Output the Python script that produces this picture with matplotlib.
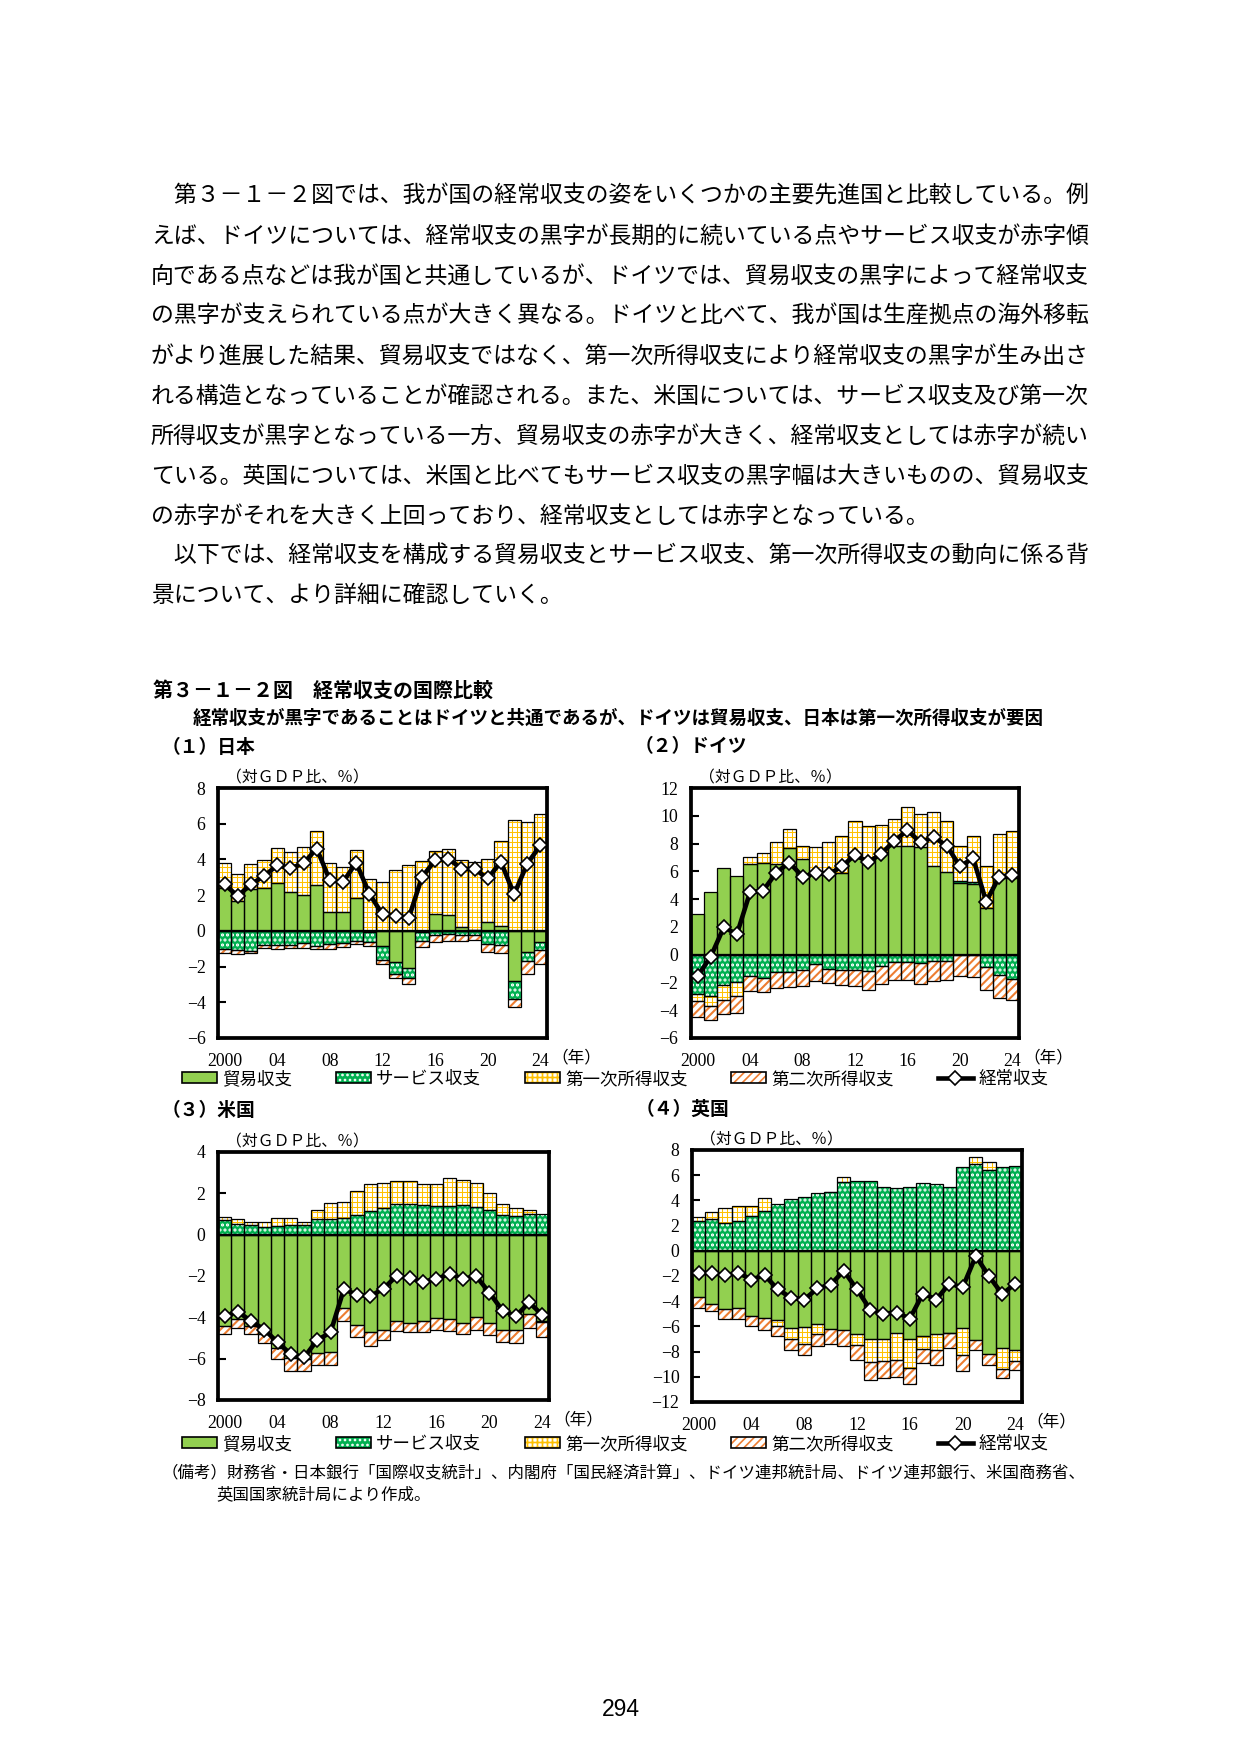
import matplotlib
matplotlib.use("Agg")
import matplotlib.pyplot as plt
from matplotlib.patches import Patch
from matplotlib.lines import Line2D
import numpy as np

W, H = 1241, 1755
DPI = 150

plt.rcParams['font.family'] = ['Liberation Serif', 'Noto Sans CJK JP']
plt.rcParams['hatch.linewidth'] = 0.8
JP = ['Noto Sans CJK JP', 'DejaVu Sans']

# ---- data (% of GDP), 2000-2024 ----
years = np.arange(2000, 2025)
year_ticks = ['2000', '04', '08', '12', '16', '20', '24']

jp_trade = [2.38, 1.70, 2.32, 2.38, 2.70, 2.19, 2.02, 2.58, 1.07, 1.07, 1.85, -0.05, -0.82,
            -1.76, -2.08, -0.05, 0.96, 0.90, 0.19, 0.03, 0.50, 0.28, -2.81, -1.18, -0.62]
jp_serv = [-1.00, -1.09, -1.10, -0.79, -0.79, -0.77, -0.67, -0.82, -0.73, -0.66, -0.56, -0.55, -0.79,
           -0.64, -0.56, -0.50, -0.24, -0.20, -0.24, -0.22, -0.71, -0.80, -0.99, -0.51, -0.47]
jp_prim = [1.44, 1.48, 1.43, 1.59, 1.94, 2.23, 2.68, 3.02, 2.73, 2.51, 2.68, 2.90, 2.75,
           3.43, 3.69, 3.90, 3.52, 3.71, 3.76, 3.83, 3.53, 4.76, 6.22, 6.10, 6.57]
jp_sec = [-0.25, -0.22, -0.13, -0.15, -0.22, -0.17, -0.28, -0.22, -0.26, -0.24, -0.15, -0.25, -0.23,
          -0.22, -0.32, -0.35, -0.38, -0.34, -0.34, -0.30, -0.49, -0.44, -0.47, -0.71, -0.75]
jp_ca = [2.60, 1.95, 2.60, 3.07, 3.67, 3.50, 3.78, 4.61, 2.83, 2.73, 3.82, 2.08, 0.92,
         0.86, 0.73, 3.01, 3.95, 4.04, 3.48, 3.45, 2.94, 3.86, 2.04, 3.76, 4.79]

de_trade = [2.93, 4.49, 6.22, 5.67, 6.54, 6.59, 6.51, 7.67, 6.90, 6.00, 6.00, 5.90, 7.00,
            6.95, 7.40, 7.84, 7.84, 7.74, 6.35, 5.98, 5.14, 5.07, 3.34, 5.50, 5.55]
de_serv = [-2.80, -2.97, -2.15, -2.00, -1.55, -1.67, -1.28, -1.28, -1.07, -0.70, -1.00, -1.07, -1.12,
           -1.19, -0.83, -0.56, -0.56, -0.63, -0.44, -0.44, 0.20, 0.15, -0.88, -1.48, -1.72]
de_prim = [-0.55, -0.72, -1.08, -0.99, 0.52, 0.76, 1.57, 1.37, 0.89, 1.74, 2.08, 2.61, 2.62,
           2.35, 1.97, 1.96, 2.76, 2.41, 3.89, 3.68, 2.45, 3.29, 3.01, 3.18, 3.37]
de_sec = [-1.13, -1.03, -1.01, -1.18, -1.06, -1.05, -1.09, -1.04, -1.20, -1.23, -1.03, -1.08, -1.13,
          -1.32, -1.25, -1.23, -1.23, -1.49, -1.47, -1.40, -1.55, -1.64, -1.68, -1.61, -1.52]
de_ca = [-1.55, -0.15, 1.97, 1.48, 4.49, 4.61, 5.91, 6.63, 5.62, 5.86, 5.79, 6.35, 7.19,
         6.66, 7.26, 8.20, 8.95, 8.08, 8.46, 7.84, 6.35, 6.95, 3.82, 5.62, 5.74]

us_trade = [-4.41, -4.06, -4.40, -4.81, -5.46, -5.99, -6.04, -5.71, -5.66, -3.53, -4.35, -4.73, -4.59,
            -4.17, -4.25, -4.17, -4.02, -4.07, -4.25, -4.00, -4.29, -4.59, -4.59, -3.86, -4.18]
us_serv = [0.73, 0.54, 0.47, 0.38, 0.44, 0.49, 0.45, 0.75, 0.78, 0.79, 0.97, 1.15, 1.31,
           1.50, 1.48, 1.44, 1.41, 1.41, 1.44, 1.36, 1.17, 0.97, 0.88, 1.02, 1.00]
us_prim = [0.14, 0.24, 0.14, 0.23, 0.38, 0.33, 0.16, 0.43, 0.75, 0.81, 1.13, 1.32, 1.21,
           1.11, 1.13, 1.03, 1.06, 1.35, 1.22, 1.16, 0.85, 0.53, 0.43, 0.19, -0.05]
us_sec = [-0.42, -0.48, -0.43, -0.45, -0.56, -0.61, -0.56, -0.60, -0.65, -0.65, -0.62, -0.66, -0.51,
          -0.50, -0.48, -0.56, -0.60, -0.60, -0.58, -0.62, -0.57, -0.60, -0.64, -0.68, -0.72]
us_ca = [-3.94, -3.73, -4.18, -4.59, -5.21, -5.78, -5.94, -5.10, -4.73, -2.65, -2.90, -2.98, -2.61,
         -1.99, -2.12, -2.28, -2.15, -1.88, -2.15, -2.01, -2.81, -3.68, -3.94, -3.28, -3.89]

uk_trade = [-3.66, -4.26, -4.58, -4.50, -5.17, -5.30, -5.51, -6.09, -6.01, -5.77, -6.17, -6.25, -6.57,
            -7.02, -7.02, -6.49, -6.97, -6.75, -6.57, -6.52, -6.09, -7.10, -8.16, -7.68, -7.89]
uk_serv = [2.38, 2.52, 2.17, 2.38, 2.78, 3.18, 3.68, 4.13, 4.29, 4.56, 4.64, 5.43, 5.56,
           5.56, 5.09, 5.01, 5.09, 5.35, 5.27, 5.09, 6.62, 6.86, 6.41, 6.62, 6.75]
uk_prim = [0.32, 0.58, 1.19, 1.20, 0.80, 1.03, -0.48, -0.88, -1.35, -0.80, 0.05, 0.45, -0.93,
           -1.80, -1.75, -2.20, -2.33, -1.01, -1.32, -0.02, -2.15, 0.61, 0.61, -1.72, -0.85]
uk_sec = [-0.84, -0.53, -0.80, -0.88, -0.79, -0.95, -0.79, -0.87, -0.88, -0.95, -1.25, -1.27, -1.19,
          -1.40, -1.30, -1.32, -1.30, -1.11, -1.20, -1.21, -1.32, -0.79, -0.93, -0.69, -0.69]
uk_ca = [-1.75, -1.75, -1.93, -1.75, -2.28, -1.93, -3.07, -3.71, -3.87, -2.99, -2.68, -1.59, -3.07,
         -4.66, -4.98, -4.90, -5.38, -3.39, -3.87, -2.60, -2.91, -0.42, -2.01, -3.44, -2.60]

comp_names = ['貿易収支', 'サービス収支', '第一次所得収支', '第二次所得収支']
ca_name = '経常収支'

# style per component
face = ['#92D050', '#00B050', 'white', 'white']
hcol = ['#92D050', 'white', '#FFC000', '#ED7D31']
hatches = [None, '.....', '+++++', '//////']
hlw = [0.8, 1.0, 0.5, 1.0]

body = [
    '\u3000第３－１－２図では、我が国の経常収支の姿をいくつかの主要先進国と比較している。例',
    'えば、ドイツについては、経常収支の黒字が長期的に続いている点やサービス収支が赤字傾',
    '向である点などは我が国と共通しているが、ドイツでは、貿易収支の黒字によって経常収支',
    'の黒字が支えられている点が大きく異なる。ドイツと比べて、我が国は生産拠点の海外移転',
    'がより進展した結果、貿易収支ではなく、第一次所得収支により経常収支の黒字が生み出さ',
    'れる構造となっていることが確認される。また、米国については、サービス収支及び第一次',
    '所得収支が黒字となっている一方、貿易収支の赤字が大きく、経常収支としては赤字が続い',
    'ている。英国については、米国と比べてもサービス収支の黒字幅は大きいものの、貿易収支',
    'の赤字がそれを大きく上回っており、経常収支としては赤字となっている。',
    '\u3000以下では、経常収支を構成する貿易収支とサービス収支、第一次所得収支の動向に係る背',
    '景について、より詳細に確認していく。',
]


def fx(x):
    return x / W


def fy(y):
    return 1 - y / H


fig = plt.figure(figsize=(W / DPI, H / DPI), dpi=DPI)


def add_axes(l, t, r, b):
    return fig.add_axes([fx(l), fy(b), (r - l) / W, (b - t) / H])


def draw_panel(ax, comps, ca, ylim):
    x = np.arange(len(years))
    pos = np.zeros(len(x))
    neg = np.zeros(len(x))
    for i, vals in enumerate(comps):
        vals = np.asarray(vals, float)
        base = np.where(vals >= 0, pos, neg)
        bars = ax.bar(x, vals, 1.0, bottom=base, color=face[i], edgecolor=hcol[i],
                      hatch=hatches[i], linewidth=0, zorder=2)
        for b in bars:
            if hasattr(b, 'set_hatch_linewidth'):
                b.set_hatch_linewidth(hlw[i])
        ax.bar(x, vals, 1.0, bottom=base, fill=False, edgecolor='black', linewidth=0.6, zorder=3)
        pos = pos + np.where(vals > 0, vals, 0)
        neg = neg + np.where(vals < 0, vals, 0)
    ax.axhline(0, color='black', lw=1.1, zorder=4)
    ax.plot(x, ca, color='black', lw=2.2, marker='D', ms=5.0, mfc='white', mec='black',
            mew=0.8, zorder=5)
    ax.set_xlim(-0.5, len(x) - 0.5)
    ax.set_ylim(*ylim)
    ax.set_yticks(range(ylim[0], ylim[1] + 1, 2))
    ax.set_xticks(range(0, len(x), 4))
    ax.set_xticklabels(year_ticks)
    ax.tick_params(axis='y', direction='in', length=4, width=1.0, labelsize=8.5, pad=6)
    ax.tick_params(axis='x', length=0, labelsize=8.5, pad=7)
    for s in ax.spines.values():
        s.set_linewidth(1.8)


panels = [
    ('（１）日本', (218, 788, 547, 1038), [jp_trade, jp_serv, jp_prim, jp_sec], jp_ca, (-6, 8)),
    ('（２）ドイツ', (691, 788, 1019, 1038), [de_trade, de_serv, de_prim, de_sec], de_ca, (-6, 12)),
    ('（３）米国', (218, 1152, 549, 1400), [us_trade, us_serv, us_prim, us_sec], us_ca, (-8, 4)),
    ('（４）英国', (692, 1150, 1022, 1402), [uk_trade, uk_serv, uk_prim, uk_sec], uk_ca, (-12, 8)),
]

for title, (l, t, r, b), comps, ca, ylim in panels:
    ax = add_axes(l, t, r, b)
    draw_panel(ax, comps, ca, ylim)
    fig.text(fx(l - 56), fy(t - 41), title, family=JP, fontsize=9, fontweight='bold',
             ha='left', va='center')
    fig.text(fx(l + 8), fy(t - 10), '（対ＧＤＰ比、％）', family=JP, fontsize=7.6,
             ha='left', va='center')
    fig.text(fx(r + 29), fy(b + 20), '（年）', family=JP, fontsize=8, ha='center', va='center')

# legends
handles = []
for i in range(4):
    hp = Patch(facecolor=face[i], edgecolor=hcol[i], hatch=hatches[i], linewidth=0)
    if hasattr(hp, 'set_hatch_linewidth'):
        hp.set_hatch_linewidth(hlw[i])
    op = Patch(fill=False, edgecolor='black', linewidth=0.8)
    handles.append((hp, op))
handles.append(Line2D([], [], color='black', lw=2.2, marker='D', ms=5.0, mfc='white',
                      mec='black', mew=0.8))
labels = comp_names + [ca_name]
for ly in (1079, 1444):
    fig.legend(handles, labels, loc='center', bbox_to_anchor=(fx(615), fy(ly)), ncol=5,
               frameon=False, prop={'family': JP, 'size': 8.4}, handlelength=2.0,
               handleheight=0.6, handletextpad=0.3, columnspacing=2.5, borderpad=0,
               borderaxespad=0)

# titles
fig.text(fx(153), fy(690), '第３－１－２図\u3000経常収支の国際比較', family=JP, fontsize=9.6,
         fontweight='bold', ha='left', va='center')
fig.text(fx(193), fy(718),
         '経常収支が黒字であることはドイツと共通であるが、ドイツは貿易収支、日本は第一次所得収支が要因',
         family=JP, fontsize=8.9, fontweight='bold', ha='left', va='center')

# body text
for k, line in enumerate(body):
    fig.text(fx(151), fy(196 + 40 * k), line, family=JP, fontsize=11, ha='left', va='center')

# note
fig.text(fx(162), fy(1473),
         '（備考）財務省・日本銀行「国際収支統計」、内閣府「国民経済計算」、ドイツ連邦統計局、ドイツ連邦銀行、米国商務省、',
         family=JP, fontsize=7.9, ha='left', va='center')
fig.text(fx(216), fy(1495), '英国国家統計局により作成。', family=JP, fontsize=7.9,
         ha='left', va='center')

fig.text(fx(621), fy(1709), '294', family=['Liberation Sans', 'DejaVu Sans'], fontsize=11,
         ha='center', va='center')

fig.savefig('out.png', dpi=DPI)
